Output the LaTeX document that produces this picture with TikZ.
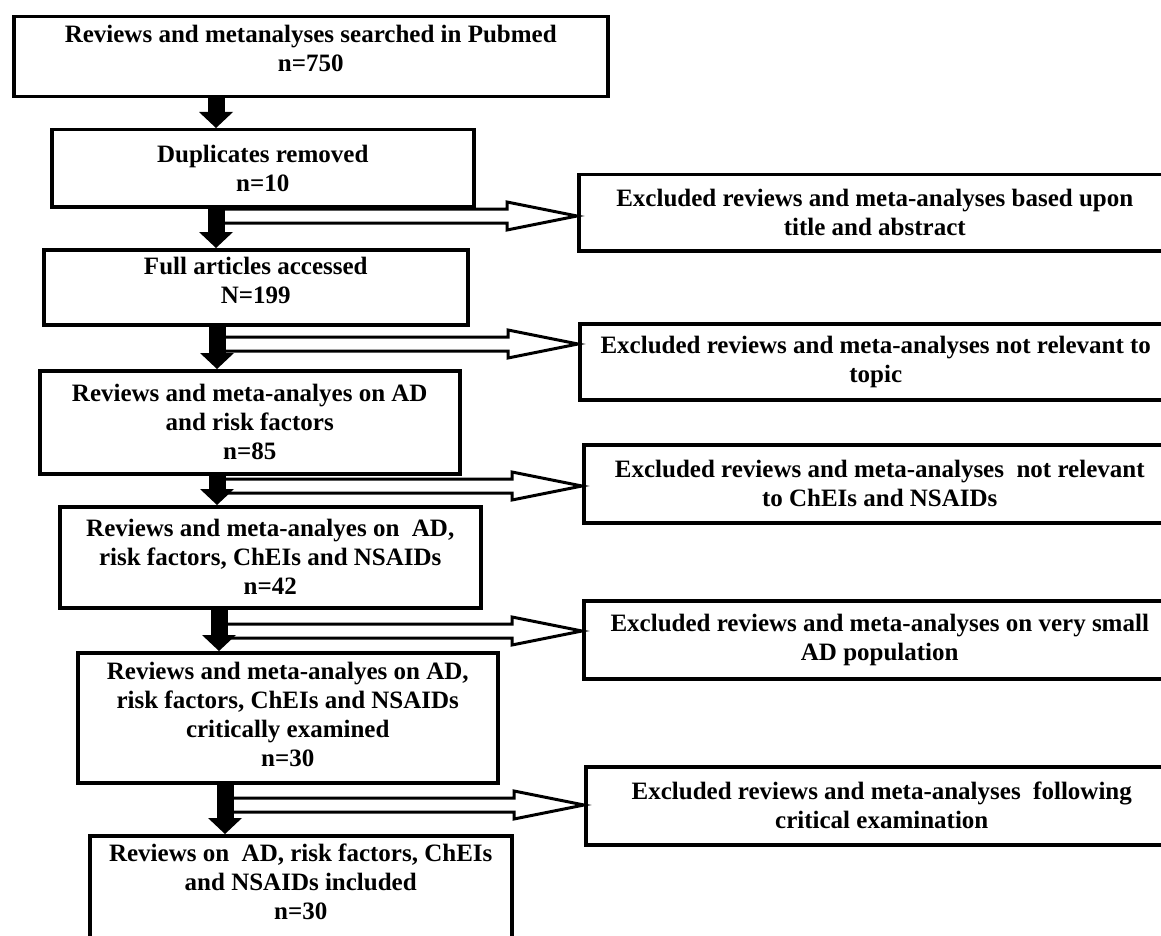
\documentclass[tikz,border=0pt]{standalone}
\usepackage{fontspec}
\setmainfont{Liberation Serif}
\usepackage{tikz}
\usetikzlibrary{arrows.meta,calc}

\begin{document}
\begin{tikzpicture}[x=1pt,y=-1pt]
	\tikzstyle{stage}=[draw,line width=3.5pt,anchor=north west,align=center,inner sep=0pt,font=\fontsize{25}{29}\selectfont\bfseries]
	\tikzstyle{excluded}=[stage,minimum width=592pt]
	\tikzstyle{passon}=[line width=17pt,-{Triangle[width=34pt,length=16pt,line width=0pt]}]
	\tikzstyle{hollow}=[draw,fill=white,line width=3pt,line join=miter]
	\useasboundingbox (0,0) rectangle (1161,936);

	\node [stage,minimum width=594pt,minimum height=80pt,text depth=16pt] (pubmed) at (12,15) {Reviews and metanalyses searched in Pubmed\\n=750};
	\node [stage,minimum width=422pt,minimum height=77pt] (dupl) at (50,128) {Duplicates removed\\n=10};
	\node [stage,minimum width=424pt,minimum height=75pt,text depth=14pt] (full) at (42,248) {Full articles accessed\\N=199};
	\node [stage,minimum width=420pt,minimum height=103pt] (riskf) at (38,369) {Reviews and meta-analyes on AD\\and risk factors\\n=85};
	\node [stage,minimum width=421pt,minimum height=101pt] (drugs) at (58,505) {Reviews and meta-analyes on~ AD,\\risk factors, ChEIs and NSAIDs\\n=42};
	\node [stage,minimum width=420pt,minimum height=130pt,text depth=6pt] (exam) at (76,651) {Reviews and meta-analyes on AD,\\risk factors, ChEIs and NSAIDs\\critically examined\\n=30};
	\node [stage,minimum width=422pt,minimum height=108pt,text depth=16pt] (final) at (88,834) {Reviews on~ AD, risk factors, ChEIs\\and NSAIDs included\\n=30};

	\node [excluded,minimum height=76pt] (xtitle) at (577,173) {Excluded reviews and meta-analyses based upon\\title and abstract};
	\node [excluded,minimum height=76pt] (xtopic) at (578,322) {Excluded reviews and meta-analyses not relevant to\\topic};
	\node [excluded,minimum height=78pt] (xdrugs) at (582,443) {Excluded reviews and meta-analyses~ not relevant\\to ChEIs and NSAIDs};
	\node [excluded,minimum height=78pt] (xsmall) at (582,599) {Excluded reviews and meta-analyses on very small\\AD population};
	\node [excluded,minimum height=78pt] (xcrit) at (584,765) {Excluded reviews and meta-analyses~ following\\critical examination};

	\foreach \e/\x/\y in {xtitle/216/216, xtopic/216/344, xdrugs/217/486, xsmall/217/631, xcrit/225/805}
		\draw [hollow] (\x,\y-7) -- ($(\e.west|-0,\y)+(-70,-7)$) -- ($(\e.west|-0,\y)+(-70,-14)$) -- (\e.west|-0,\y)
			-- ($(\e.west|-0,\y)+(-70,14)$) -- ($(\e.west|-0,\y)+(-70,7)$) -- (\x,\y+7) -- cycle;

	\foreach \a/\b/\x in {pubmed/dupl/216, dupl/full/216, full/riskf/217, riskf/drugs/217, drugs/exam/219, exam/final/225}
		\draw [passon] (\x,0 |- \a.south) -- (\x,0 |- \b.north);
\end{tikzpicture}
\end{document}
